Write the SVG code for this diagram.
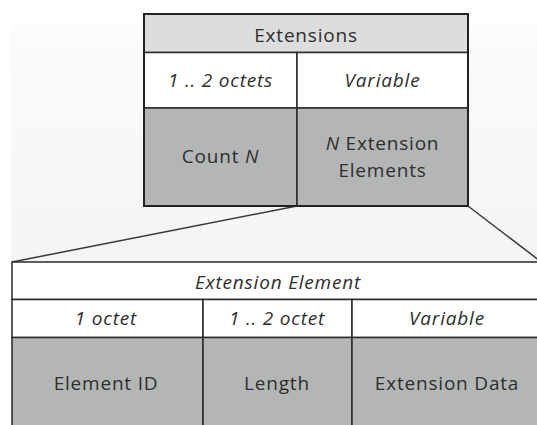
<svg xmlns="http://www.w3.org/2000/svg" width="537" height="425" viewBox="0 0 537 425">
  <defs>
    <linearGradient id="bgGrad" x1="0" y1="0" x2="0" y2="1">
      <stop offset="0" stop-color="#fbfbfb"/>
      <stop offset="1" stop-color="#f0f0ee"/>
    </linearGradient>
    <style>
      .txt { font-family: "Open Sans", "Liberation Sans", sans-serif; font-size: 19px; letter-spacing: 0.8px; fill: #2e2e2e; text-anchor: middle; }
      .it { font-style: italic; }
      .cell { stroke: #2a2a2a; stroke-width: 1.5; }
      .hdr { fill: #dcdddc; }
      .wht { fill: #ffffff; }
      .gry { fill: #b4b6b6; }
      .conn { stroke: #3a3a3a; stroke-width: 1.5; fill: none; }
    </style>
  </defs>

  <!-- backdrop -->
  <rect x="0" y="0" width="537" height="425" fill="#ffffff"/>
  <rect x="11" y="25" width="526" height="400" fill="url(#bgGrad)"/>

  <!-- zoom connectors -->
  <g id="connectors">
    <line class="conn" x1="297" y1="206" x2="12" y2="262"/>
    <line class="conn" x1="468" y1="206" x2="540" y2="261"/>
  </g>

  <!-- Extensions structure -->
  <g id="extensions">
    <rect class="cell hdr" x="144" y="14" width="324" height="38.5"/>
    <text class="txt" x="306" y="42">Extensions</text>
  </g>
  <g id="count-size">
    <rect class="cell wht" x="144" y="52.5" width="153" height="55.5"/>
    <text class="txt it" x="220.5" y="87">1 .. 2 octets</text>
  </g>
  <g id="elements-size">
    <rect class="cell wht" x="297" y="52.5" width="171" height="55.5"/>
    <text class="txt it" x="382.5" y="87">Variable</text>
  </g>
  <g id="count">
    <rect class="cell gry" x="144" y="108" width="153" height="98"/>
    <text class="txt" x="220.5" y="163">Count <tspan class="it">N</tspan></text>
  </g>
  <g id="elements">
    <rect class="cell gry" x="297" y="108" width="171" height="98"/>
    <text class="txt" x="382.5" y="150"><tspan class="it">N</tspan> Extension</text>
    <text class="txt" x="382.5" y="177">Elements</text>
  </g>
  <rect x="144" y="14" width="324" height="192" fill="none" stroke="#222" stroke-width="2"/>

  <!-- Extension Element structure -->
  <g id="extension-element">
    <rect class="cell wht" x="12" y="262" width="532" height="37.5"/>
    <text class="txt it" x="278" y="289">Extension Element</text>
  </g>
  <g id="id-size">
    <rect class="cell wht" x="12" y="299.5" width="191" height="38"/>
    <text class="txt it" x="106" y="325">1 octet</text>
  </g>
  <g id="length-size">
    <rect class="cell wht" x="203" y="299.5" width="149" height="38"/>
    <text class="txt it" x="277" y="325">1 .. 2 octet</text>
  </g>
  <g id="data-size">
    <rect class="cell wht" x="352" y="299.5" width="192" height="38"/>
    <text class="txt it" x="447" y="325">Variable</text>
  </g>
  <g id="element-id">
    <rect class="cell gry" x="12" y="337.5" width="191" height="100"/>
    <text class="txt" x="106" y="390">Element ID</text>
  </g>
  <g id="length">
    <rect class="cell gry" x="203" y="337.5" width="149" height="100"/>
    <text class="txt" x="277" y="390">Length</text>
  </g>
  <g id="extension-data">
    <rect class="cell gry" x="352" y="337.5" width="192" height="100"/>
    <text class="txt" x="447" y="390">Extension Data</text>
  </g>
</svg>
